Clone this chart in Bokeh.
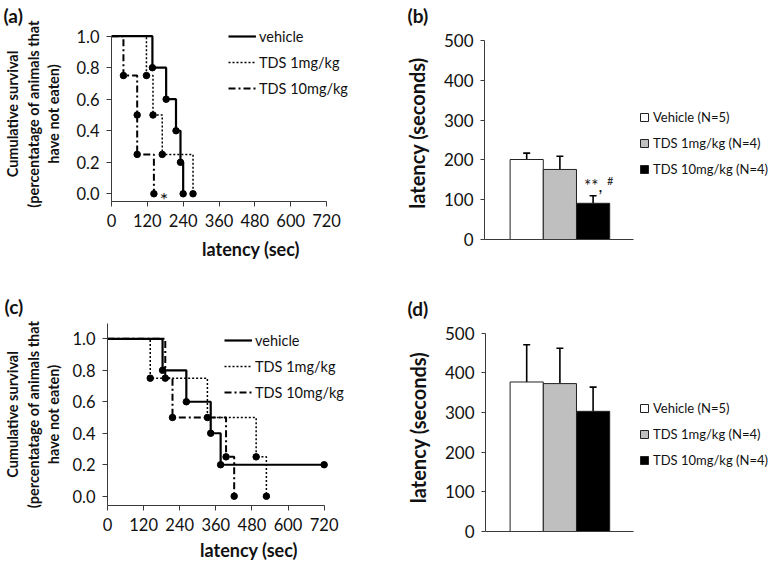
from bokeh.plotting import figure
from bokeh.models import (FixedTicker, Legend, LegendItem, Whisker, TeeHead,
                          ColumnDataSource, NumeralTickFormatter, Range1d)
from bokeh.layouts import column, row
from bokeh.core.properties import value
from bokeh.embed import file_html
from bokeh.resources import INLINE

FONT = "Lato"

# ---------------- data ----------------
km_labels = ["vehicle", "TDS 1mg/kg", "TDS 10mg/kg"]
# panel (a): event times (sec) and cumulative survival
a_veh_t = [0, 137, 183, 216, 231, 240]
a_veh_s = [1.0, 0.8, 0.6, 0.4, 0.2, 0.0]
a_t1_t = [0, 117, 139, 170, 273]
a_t1_s = [1.0, 0.75, 0.5, 0.25, 0.0]
a_t10_t = [0, 40, 86, 86, 142]
a_t10_s = [1.0, 0.75, 0.5, 0.25, 0.0]
# panel (c)
c_veh_t = [0, 183, 262, 343, 376, 720]
c_veh_s = [1.0, 0.8, 0.6, 0.4, 0.2, 0.2]
c_t1_t = [0, 142, 332, 494, 528]
c_t1_s = [1.0, 0.75, 0.5, 0.25, 0.0]
c_t10_t = [0, 192, 216, 394, 421]
c_t10_s = [1.0, 0.75, 0.5, 0.25, 0.0]

km_xticks = [0, 120, 240, 360, 480, 600, 720]
km_yticks = [0.0, 0.2, 0.4, 0.6, 0.8, 1.0]

groups = ["Vehicle (N=5)", "TDS 1mg/kg (N=4)", "TDS 10mg/kg (N=4)"]
bar_colors = ["#ffffff", "#bfbfbf", "#000000"]
b_mean = [201, 176, 91]
b_sem = [16, 33, 19]
d_mean = [377, 373, 303]
d_sem = [94, 89, 61]
bar_yticks = [0, 100, 200, 300, 400, 500]

AXIS_COL = "#3a3a3a"
TXT = "#111111"


def base_fig(W, H, bl, br, bt, bb, xr, yr):
    p = figure(width=W, height=H, x_range=Range1d(*xr), y_range=Range1d(*yr),
               output_backend="svg", toolbar_location=None,
               min_border_left=bl, min_border_right=br, min_border_top=bt, min_border_bottom=bb)
    p.frame_align = False
    p.grid.visible = False
    p.outline_line_color = None
    return p


def style_axes(p):
    for ax in p.axis:
        ax.axis_line_color = AXIS_COL
        ax.axis_line_width = 1
        ax.major_tick_line_color = AXIS_COL
        ax.major_tick_in = 0
        ax.major_tick_out = 5
        ax.minor_tick_line_color = None
        ax.major_label_text_font = FONT
        ax.major_label_text_color = TXT
        ax.axis_label_text_font = FONT
        ax.axis_label_text_font_style = "bold"
        ax.axis_label_text_color = TXT


def panel_title(p, text, offset, standoff):
    p.title.text = text
    p.title.align = "left"
    p.title.offset = offset
    p.title.standoff = standoff
    p.title.text_font = FONT
    p.title.text_font_style = "bold"
    p.title.text_font_size = "19px"
    p.title.text_color = TXT


def km_panel(W, H, bl, br, bt, bb, xr, yr, ybounds, series, leg_xy, ylab_standoff,
             xlab_standoff, plabel, poff, pstand, star=None):
    p = base_fig(W, H, bl, br, bt, bb, xr, yr)
    styles = [dict(line_dash="solid", line_width=2.2),
              dict(line_dash="2 2", line_width=1.5),
              dict(line_dash="7 3 2 3", line_width=2.0)]
    items = []
    for (t, s), st, lab in zip(series, styles, km_labels):
        r = p.step(t, s, mode="after", line_color="black", **st)
        p.scatter(t[1:], s[1:], size=6.5, color="black")
        items.append(LegendItem(label=lab, renderers=[r]))
    leg = Legend(items=items, location=leg_xy, glyph_width=28, glyph_height=18,
                 label_height=18, spacing=8, padding=0, margin=0, label_standoff=3,
                 border_line_color=None, background_fill_alpha=0,
                 label_text_font=FONT, label_text_font_size="14.5px", label_text_color=TXT)
    p.add_layout(leg)
    p.xaxis.ticker = FixedTicker(ticks=km_xticks)
    p.yaxis.ticker = FixedTicker(ticks=km_yticks)
    p.yaxis.formatter = NumeralTickFormatter(format="0.0")
    p.xaxis.bounds = (0, 720)
    p.yaxis.bounds = ybounds
    style_axes(p)
    p.axis.major_label_text_font_size = "16.5px"
    p.xaxis.major_label_standoff = 7
    p.yaxis.major_label_standoff = 7
    p.xaxis.axis_label = "latency (sec)"
    p.xaxis.axis_label_text_font_size = "18px"
    p.xaxis.axis_label_standoff = xlab_standoff
    p.yaxis.axis_label = "Cumulative survival\n(percentatage of animals that\nhave not eaten)"
    p.yaxis.axis_label_text_font_size = "14.5px"
    p.yaxis.axis_label_text_line_height = 1.22
    p.yaxis.axis_label_standoff = ylab_standoff
    panel_title(p, plabel, poff, pstand)
    if star is not None:
        p.text(x=[star[0]], y=[star[1]], text=["*"], x_offset=10, y_offset=5,
               text_font=value(FONT), text_font_size="20px", text_color=TXT,
               text_align="center", text_baseline="middle")
    return p


def bar_panel(W, H, bl, br, bt, bb, xr, yr, axis_end, mean, sem, leg_x, leg_ys,
              plabel, poff, pstand, sig=False):
    p = base_fig(W, H, bl, br, bt, bb, xr, yr)
    xs = list(range(1, len(mean) + 1))
    upper = [m + s for m, s in zip(mean, sem)]
    src = ColumnDataSource(dict(x=xs, top=mean, upper=upper, color=bar_colors))
    r = p.vbar(x="x", top="top", bottom=0, width=1.0, fill_color="color",
               line_color="#222222", line_width=1, source=src)
    wk = Whisker(base="x", lower="top", upper="upper", source=src, line_color="black",
                 line_width=1.6, upper_head=TeeHead(size=7, line_width=1.6, line_color="black"),
                 lower_head=None)
    p.add_layout(wk)
    # one single-item legend per group, so each row sits exactly where it should
    for i, (g, ly) in enumerate(zip(groups, leg_ys)):
        leg = Legend(items=[LegendItem(label=g, renderers=[r], index=i)],
                     location=(leg_x, ly), glyph_width=10, glyph_height=10, label_height=16,
                     spacing=0, padding=0, margin=0, label_standoff=4, border_line_color=None,
                     background_fill_alpha=0, label_text_font=FONT, label_text_font_size="13px",
                     label_text_color=TXT)
        p.add_layout(leg)
    p.yaxis.ticker = FixedTicker(ticks=bar_yticks)
    p.xaxis.ticker = FixedTicker(ticks=[])
    p.yaxis.bounds = (0, 500)
    p.xaxis.bounds = (xr[0], axis_end)
    style_axes(p)
    p.xaxis.major_tick_out = 0
    p.xaxis.major_label_standoff = 0
    p.yaxis.major_tick_out = 4
    p.yaxis.major_label_text_font_size = "17px"
    p.yaxis.major_label_standoff = 7
    p.yaxis.axis_label = "latency (seconds)"
    p.yaxis.axis_label_text_font_size = "20px"
    p.yaxis.axis_label_standoff = 12
    panel_title(p, plabel, poff, pstand)
    if sig:
        p.text(x=[xs[2]], y=[upper[2]], text=["**,"], x_offset=0, y_offset=-10,
               text_font=value(FONT), text_font_size="17px", text_color=TXT,
               text_align="center", text_baseline="alphabetic")
        p.text(x=[xs[2]], y=[upper[2]], text=["#"], x_offset=17, y_offset=-15,
               text_font=value(FONT), text_font_size="11px", text_color=TXT,
               text_align="center", text_baseline="alphabetic")
    return p


# (a): frame x 111..390, y 26..201
pa = km_panel(390, 285, 111, 0, 26, 84, (0, 934.3), (-0.049, 1.0614), (-0.049, 1.0),
              [(a_veh_t, a_veh_s), (a_t1_t, a_t1_s), (a_t10_t, a_t10_s)],
              (117, 104), 11, 8, "(a)", -108, 0,
              star=(a_t10_t[-1], a_t10_s[-1]))
# (b): frame x 484..773, y 26..239
pb = bar_panel(383, 285, 94, 0, 26, 46, (-0.271, 8.434), (0, 535.2), 4.226,
               b_mean, b_sem, 155, [114, 88, 62], "(b)", -77, 0, sig=True)
# (c): frame x 107..390, y 323..505
pc = km_panel(390, 279, 107, 0, 38, 59, (0, 940.5), (-0.059, 1.0973), (-0.059, 1.0973),
              [(c_veh_t, c_veh_s), (c_t1_t, c_t1_s), (c_t10_t, c_t10_s)],
              (117, 104), 7, 5, "(c)", -103, 12)
# (d): frame x 485..773, y 323..531
pd = bar_panel(383, 279, 95, 0, 38, 33, (-0.241, 8.434), (0, 524.5), 4.226,
               d_mean, d_sem, 154, [115, 89, 63], "(d)", -78, 7)

layout = column(row(pa, pb), row(pc, pd))
open("out.html", "w").write(file_html(layout, INLINE))
